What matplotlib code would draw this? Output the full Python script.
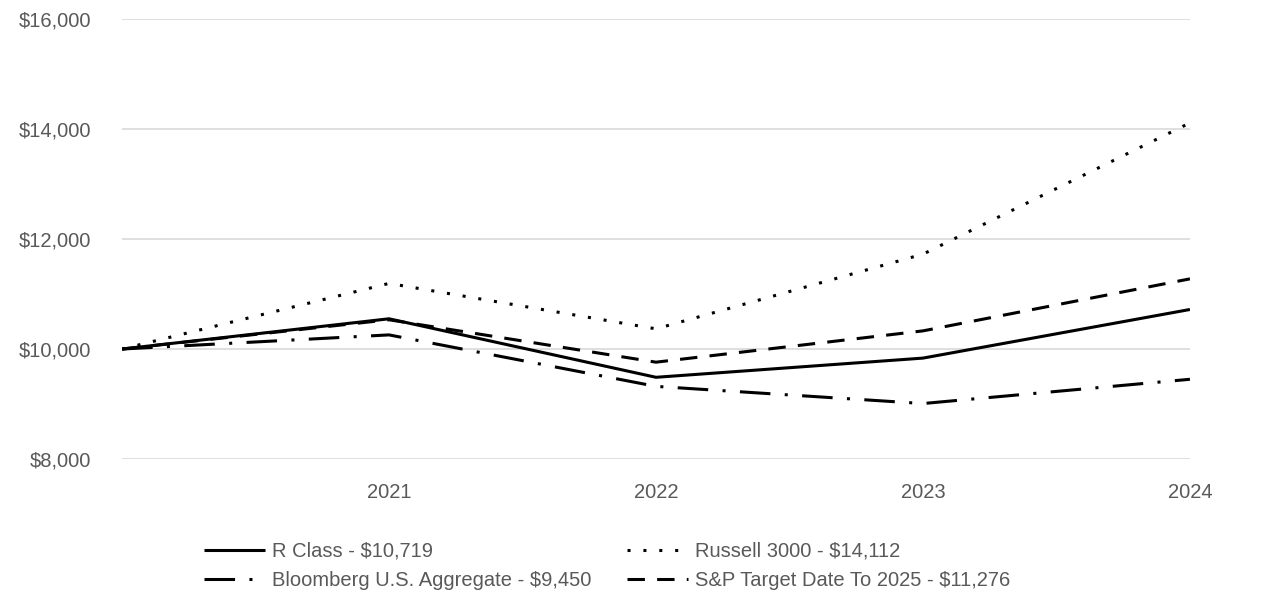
import matplotlib
matplotlib.use('Agg')
import matplotlib.pyplot as plt
from matplotlib.ticker import FuncFormatter

plt.rcParams['font.family'] = ['Liberation Sans', 'DejaVu Sans']
FS = 14.5

# data (growth of $10,000)
years = ['', '2021', '2022', '2023', '2024']
r_class = [10000, 10550, 9486, 9835, 10719]
russell = [10000, 11193, 10367, 11725, 14112]
bloomberg = [10000, 10257, 9321, 9009, 9450]
sp_target = [10000, 10532, 9761, 10330, 11276]

labels = ['R Class - $10,719', 'Russell 3000 - $14,112',
          'Bloomberg U.S. Aggregate - $9,450', 'S&P Target Date To 2025 - $11,276']

TXT = '#595959'
fig = plt.figure(figsize=(12.86, 6.14), dpi=100)
ax = fig.add_axes([0.0949, 0.2524, 0.8304, 0.7166])

x = list(range(len(years)))
lw = 2.2
l1, = ax.plot(x, r_class, color='black', lw=lw, solid_capstyle='butt')
l2, = ax.plot(x, russell, color='black', lw=lw, linestyle=(0, (1, 4.2)), dash_capstyle='butt')
l3, = ax.plot(x, bloomberg, color='black', lw=lw, linestyle=(0, (10, 4.7, 1, 4.7)), dash_capstyle='butt')
l4, = ax.plot(x, sp_target, color='black', lw=lw, linestyle=(0, (5.7, 4)), dash_capstyle='butt')

ax.set_xlim(0, 4)
ax.set_ylim(8000, 16000)
ax.set_yticks([8000, 10000, 12000, 14000, 16000])
ax.yaxis.set_major_formatter(FuncFormatter(lambda v, p: f'${v:,.0f}'))
ax.set_xticks(x)
ax.set_xticklabels(years)
ax.tick_params(axis='both', length=0, labelsize=FS, colors=TXT)
ax.tick_params(axis='y', pad=22)
ax.tick_params(axis='x', pad=17.5)
ax.grid(axis='y', color='#d9d9d9', lw=1.2)
ax.set_axisbelow(True)
for s in ax.spines.values():
    s.set_visible(False)

# row-wise order for a 2-column legend
handles = [l1, l3, l2, l4]
order = [labels[0], labels[2], labels[1], labels[3]]
leg = fig.legend(handles, order, loc='center', ncol=2,
                 bbox_to_anchor=(607 / 1286, 1 - 566 / 614), frameon=False,
                 fontsize=FS, handlelength=3.0, handletextpad=0.35,
                 columnspacing=1.8, labelspacing=0.5, borderpad=0)
for t in leg.get_texts():
    t.set_color(TXT)

fig.savefig('out.png', dpi=100)
